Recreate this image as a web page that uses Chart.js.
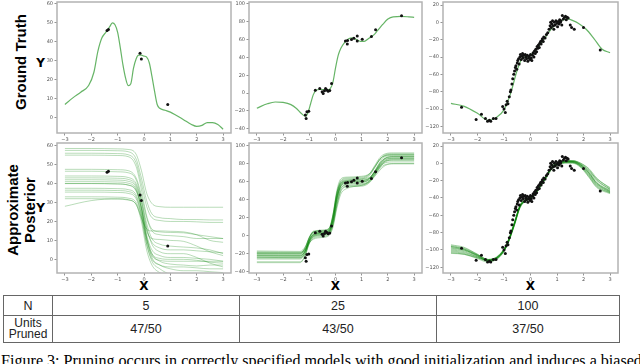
<!DOCTYPE html>
<html>
<head>
<meta charset="utf-8">
<script src="https://cdn.jsdelivr.net/npm/chart.js@4.4.1/dist/chart.umd.min.js"></script>
<style>
  body { margin: 0; width: 640px; height: 364px; overflow: hidden; background: #fff; position: relative; }
  .side { position: absolute; transform: translate(-50%, -50%) rotate(-90deg); font: bold 15px "Liberation Sans", Arial, sans-serif; white-space: nowrap; text-align: center; line-height: 17px; color: #000; }
  .lab { position: absolute; transform: translate(-50%, -50%); font: bold 12px "DejaVu Sans", sans-serif; line-height: 1; color: #000; }
  table { position: absolute; left: 3px; top: 295px; border-collapse: collapse; table-layout: fixed; font: 12.5px "Liberation Sans", Arial, sans-serif; color: #222; }
  td { border: 1px solid #666; padding: 0; text-align: center; }
  .caption { position: absolute; left: 1px; top: 353px; font: 16.1px "Liberation Serif", "Times New Roman", serif; line-height: 16.1px; white-space: nowrap; color: #000; }
</style>
</head>
<body>
<div class="side" style="left:19.5px;top:62px">Ground Truth</div>
<div class="side" style="left:21px;top:210px">Approximate<br>Posterior</div>
<div class="lab" style="left:40.5px;top:62.5px">Y</div>
<div class="lab" style="left:40.5px;top:207.5px">Y</div>
<div class="lab" style="left:144px;top:286px">X</div>
<div class="lab" style="left:335.5px;top:286px">X</div>
<div class="lab" style="left:530.5px;top:286px">X</div>
<table id="tbl"></table>
<div class="caption">Figure 3: Pruning occurs in correctly specified models with good initialization and induces a biased</div>
<script>
// tick labels
const xTicks = [-3, -2, -1, 0, 1, 2, 3];
const yTicks5 = [0, 10, 20, 30, 40, 50, 60];
const yTicks25 = [-40, -20, 0, 20, 40, 60, 80, 100];
const yTicks100 = [-120, -100, -80, -60, -40, -20, 0, 20];

// table
const sizes = ['5', '25', '100'];
const unitsPruned = ['47/50', '43/50', '37/50'];

// observed points
const obs5 = [[-1.4, 46], [-1.35, 46.5], [-0.15, 34], [-0.1, 31], [0.9, 7]];
const obs25 = [[-1.09, -21], [-1.15, -24.5], [-1.12, -28.5], [-1.02, -20.5], [-0.77, 3.3], [-0.6, 5],
  [-0.51, 1.5], [-0.47, -0.5], [-0.42, 2.5], [-0.38, 5], [-0.33, 3.5], [-0.28, 2], [-0.22, 3],
  [-0.15, 10.7], [0.38, 58.5], [0.45, 55], [0.46, 59], [0.61, 60], [0.7, 61.5], [0.83, 64],
  [0.83, 58.5], [1.02, 60.5], [1.37, 63.5], [1.53, 71], [2.52, 86.7]];
const obs100 = [
  [-2.6, -98], [-2.05, -112], [-1.85, -106], [-1.7, -111], [-1.62, -114], [-1.55, -113], [-1.5, -114], [-1.4, -111], [-1.3, -111], [-1.05, -97],
  [-1.0, -100], [-0.95, -104], [-0.92, -95], [-0.88, -91], [-0.85, -94], [-0.8, -86], [-0.76, -80], [-0.74, -78], [-0.7, -71], [-0.67, -65],
  [-0.63, -60], [-0.6, -56], [-0.57, -52], [-0.55, -50], [-0.52, -54], [-0.5, -47], [-0.48, -44], [-0.45, -42], [-0.43, -48], [-0.4, -40],
  [-0.38, -37], [-0.35, -43], [-0.32, -39], [-0.3, -36], [-0.27, -41], [-0.25, -38], [-0.22, -44], [-0.2, -37], [-0.17, -40], [-0.15, -42],
  [-0.12, -38], [-0.1, -45], [-0.07, -41], [-0.05, -39], [-0.02, -43], [0.0, -37], [0.03, -41], [0.05, -44], [0.08, -38], [0.1, -35],
  [0.13, -40], [0.15, -33], [0.18, -36], [0.2, -31], [0.23, -34], [0.25, -28], [0.28, -30], [0.3, -26], [0.33, -29], [0.35, -24],
  [0.38, -22], [0.4, -25], [0.43, -21], [0.45, -19], [0.48, -22], [0.5, -17], [0.55, -18], [0.6, -14], [0.65, -12], [0.7, -8],
  [0.74, -4], [0.76, 0], [0.78, -6], [0.8, -2], [0.83, 2], [0.86, -4], [0.88, -8], [0.9, 0], [0.93, -3], [0.96, 2],
  [1.0, -1], [1.02, -5], [1.05, 1], [1.08, -2], [1.1, 3], [1.13, 0], [1.15, 2], [1.18, -3], [1.2, 8], [1.24, 4],
  [1.28, 6], [1.32, 7], [1.35, 3], [1.38, 6], [1.42, 5], [1.5, -3], [1.55, -6], [1.65, -8], [2.0, -6], [2.63, -32]];

// ground truth functions
const truth5X = [-3, -2.7, -2.4, -2.1, -1.9, -1.75, -1.6, -1.45, -1.3, -1.2, -1.1, -1.0, -0.9, -0.8, -0.7, -0.6, -0.5, -0.4, -0.3, -0.2,
  -0.1, 0, 0.1, 0.2, 0.3, 0.4, 0.5, 0.6, 0.8, 1.0, 1.2, 1.5, 1.8, 2.0, 2.2, 2.4, 2.6, 2.8, 3];
const truth5Y = [7, 10.5, 13.5, 17, 24, 35, 42, 45, 48, 50, 49, 45, 37, 28, 21, 17, 18, 26, 31, 33,
  33, 32.5, 32, 29, 22, 14, 7, 5, 4, 3, 1.5, -1, -3.5, -4.5, -4, -2.5, -2.5, -3.5, -6];
const truth25X = [-3, -2.6, -2.3, -2.0, -1.7, -1.5, -1.3, -1.15, -1.05, -0.95, -0.85, -0.75, -0.6, -0.45, -0.3, -0.2, -0.1, 0,
  0.1, 0.2, 0.35, 0.5, 0.65, 0.8, 0.95, 1.1, 1.25, 1.45, 1.6, 1.8, 2.0, 2.2, 2.5, 2.8, 3];
const truth25Y = [-17, -12, -10, -10.5, -13, -17, -23, -26, -22, -12, -2, 3, 4, 4, 3.5, 5, 12, 28,
  42, 50, 57, 61, 62, 60, 58, 58, 61, 65, 70, 77, 83, 85.5, 86, 85.5, 85];
const truth100X = [-3, -2.5, -2, -1.6, -1.3, -1.0, -0.75, -0.5, -0.3, -0.1, 0.1, 0.3, 0.5, 0.75, 1.0, 1.2, 1.4, 1.6, 1.8, 2.1, 2.4, 2.7, 3];
const truth100Y = [-93.5, -97, -105, -113, -110, -101, -82, -55, -41, -39.5, -35, -28, -20, -9, -1, 2.5, 4, 2, -1, -8, -19, -31, -35];

// posterior samples (N = 5)
const post5X = [-3, -2, -1, -0.6, -0.3, -0.1, 0.1, 0.3, 0.6, 1, 1.5, 2, 2.5, 3];
const post5Lines = [
  [58.5, 58.5, 58.3, 58, 55.5, 47, 35, 29.5, 27.8, 27.5, 27.5, 27.5, 27.5, 27.5],
  [57.5, 57.5, 57.3, 56.8, 53, 43, 31, 24, 22, 21.5, 21, 21, 20.8, 20.8],
  [56, 56, 55.8, 55.2, 51, 40, 28, 22, 20.5, 20, 20, 19.8, 19.5, 19.5],
  [55, 55, 54.8, 54.2, 49, 37, 23, 16, 14.5, 14.2, 14, 13, 12, 11],
  [47.5, 47.5, 47.3, 46.8, 43, 34, 22, 15, 13, 12.5, 12, 11, 11, 11],
  [46.5, 46.5, 46.2, 45.7, 42, 32, 19, 11, 8, 7, 6.5, 6, 5, 3],
  [43, 43, 42.8, 42.2, 39, 30, 16, 9, 6, 5, 5, 4.5, 4, 3.5],
  [42, 42, 41.8, 41.2, 38, 28, 13, 5, 2, 1, 1, 0.5, 0, -1],
  [41, 41, 40.8, 40.2, 37, 27, 12, 3, -1, -2.5, -3, -3.5, -3, -3],
  [40, 40, 39.8, 39.2, 36, 27, 15, 11, 10.5, 10, 9.5, 7, 4, 2],
  [40, 40, 39.8, 39.2, 36.5, 27, 11, 1, -3, -5, -6, -6, -6.5, -7],
  [44, 44, 43.8, 43.2, 40, 31, 17, 8, 4, 3, 3, 1, -2, -4],
  [37.5, 37.5, 37.3, 36.8, 34, 25, 10, 2, -0.5, -1, -1, -1, -1, -1],
  [36.5, 36.5, 36.3, 35.8, 33, 24, 11, 3, 0.5, 0, 0, -0.5, -1.5, -2],
  [35.5, 35.5, 35.3, 34.8, 32, 23, 8, -1, -5, -8, -10, -11, -12, -12],
  [33, 33, 32.8, 32.3, 30, 22, 8, 0, -3, -4, -4, -4.5, -5, -5],
  [32, 32, 31.8, 31.3, 29, 20, 5, -3, -7, -9, -10, -10, -10, -10],
  [28, 31, 32, 31.5, 29, 22, 16, 15, 15, 14.8, 14.5, 13, 10, 9]];

// posterior samples (N = 25)
const post25X = [-3, -1.35, -1.15, -1.0, -0.85, -0.5, -0.25, -0.1, 0.05, 0.2, 0.4, 1.0, 1.3, 1.5, 1.7, 1.9, 2.2, 3];
const post25Lines = [
  [-17, -17.5, -12, -2, 4, 5, 7, 20, 45, 58, 61, 63, 67, 76, 85, 89, 90, 90],
  [-19, -19.5, -15, -5, 1, 3, 5, 16, 40, 55, 59, 60, 63, 71, 80, 86, 88, 88],
  [-20, -20, -14, -3, 3, 4, 6, 22, 48, 61, 64, 65, 69, 78, 87, 91, 92, 92],
  [-21, -21.5, -17, -7, -1, 1, 3, 13, 36, 52, 57, 58, 61, 69, 78, 84, 86, 86],
  [-22, -22.5, -17, -6, 0, 2, 4, 17, 42, 56, 60, 61, 64, 72, 81, 86, 87, 87],
  [-23, -23, -16, -3, 4, 6, 8, 23, 47, 59, 62, 63, 65, 71, 78, 83, 84, 84],
  [-24, -24.5, -19, -8, -2, 0, 2, 12, 34, 50, 55, 56, 60, 68, 77, 83, 85, 85],
  [-25, -25, -18, -5, 1, 3, 5, 18, 42, 55, 58, 59, 63, 72, 82, 88, 89, 89],
  [-18, -18.5, -15, -8, -4, -2, 0, 9, 30, 46, 52, 56, 60, 66, 73, 78, 80, 80],
  [-29, -29, -22, -8, 0, 2, 4, 16, 40, 55, 59, 60, 62, 68, 75, 79, 80, 80],
  [-30, -30, -21, -5, 2, 4, 6, 19, 44, 58, 61, 62, 64, 70, 77, 81, 82, 82],
  [-20, -20.5, -13, -2, 4, 5, 7, 23, 50, 63, 65, 66, 69, 77, 85, 89, 90, 90],
  [-22, -22, -16, -6, -1, 1, 3, 14, 38, 53, 56, 57, 61, 70, 80, 86, 88, 88],
  [-24, -24, -17, -5, 1, 3, 5, 17, 43, 57, 60, 61, 64, 71, 79, 85, 86, 86],
  [-19, -19, -13, -2, 5, 6, 8, 21, 47, 60, 63, 64, 68, 76, 85, 90, 91, 91],
  [-26, -26, -20, -9, -3, -1, 1, 11, 33, 49, 54, 55, 59, 67, 76, 82, 84, 84]];

// posterior samples (N = 100)
const post100X = [-3, -2.5, -2, -1.6, -1.2, -0.9, -0.6, -0.4, -0.2, 0, 0.2, 0.4, 0.6, 0.8, 1.0, 1.3, 1.6, 1.9, 2.2, 2.5, 3];
const post100Lines = [
  [-94, -97, -105, -111, -107, -94, -68, -49, -42, -39, -33, -24, -14, -4, 0, 3, 3, -1, -8, -18, -28],
  [-96, -99, -106, -112, -108, -96, -71, -51, -43, -40, -34, -25, -16, -6, -2, 1, 2, -2, -11, -23, -32],
  [-98, -100, -107, -113, -109, -96, -70, -50, -44, -41, -35, -26, -16, -6, -2, 1, 1, -4, -15, -27, -34],
  [-100, -102, -108, -112, -107, -93, -67, -48, -42, -40, -34, -25, -15, -5, -1, 2, 3, 0, -6, -17, -29],
  [-102, -104, -109, -113, -108, -95, -69, -50, -43, -40, -33, -24, -14, -4, 0, 3, 2, -3, -12, -24, -33],
  [-103, -105, -110, -114, -109, -96, -71, -52, -44, -41, -35, -26, -17, -7, -3, 0, 0, -5, -16, -28, -35],
  [-96, -99, -106, -111, -106, -93, -68, -49, -42, -39, -33, -24, -14, -4, 0, 3, 3, 0, -7, -19, -30],
  [-99, -101, -107, -112, -108, -95, -69, -50, -43, -40, -34, -25, -15, -5, -1, 2, 2, -2, -10, -22, -31],
  [-101, -103, -108, -112, -107, -94, -68, -49, -42, -39, -33, -24, -14, -4, 0, 2, 2, -1, -9, -20, -30],
  [-95, -98, -105, -111, -107, -95, -70, -51, -43, -40, -34, -25, -15, -5, -1, 1, 1, -4, -14, -26, -34],
  [-97, -100, -106, -112, -108, -95, -70, -50, -43, -40, -34, -25, -15, -5, -1, 2, 1, -3, -13, -25, -33],
  [-104, -105, -109, -112, -107, -94, -69, -50, -43, -40, -34, -25, -15, -5, -1, 2, 2, -2, -11, -23, -32]];

// table
const tbl = document.getElementById('tbl');
tbl.innerHTML =
  '<colgroup><col style="width:49px"><col style="width:187px"><col style="width:197px"><col style="width:183px"></colgroup>' +
  '<tr style="height:20px"><td>N</td>' + sizes.map(s => '<td>' + s + '</td>').join('') + '</tr>' +
  '<tr style="height:27px"><td style="font-size:12px;line-height:11px">Units<br>Pruned</td>' +
  unitsPruned.map(s => '<td>' + s + '</td>').join('') + '</tr>';

const PAD = { l: 30, t: 6, r: 8, b: 14 };
const FONT = { family: 'DejaVu Sans', size: 5 };
const minus = v => String(v).replace('-', '\u2212');

const frame = {
  id: 'frame',
  afterDraw(chart) {
    const a = chart.chartArea, ctx = chart.ctx;
    ctx.save();
    ctx.strokeStyle = '#b3b3b3';
    ctx.lineWidth = 1.5;
    ctx.strokeRect(a.left, a.top, a.right - a.left, a.bottom - a.top);
    ctx.restore();
  }
};

function axis(min, max, ticks, isX) {
  return {
    type: 'linear', min, max,
    afterBuildTicks: s => { s.ticks = ticks.map(v => ({ value: v })); },
    afterFit: s => { if (isX) s.height = PAD.b; else s.width = PAD.l; },
    border: { display: false },
    grid: { drawOnChartArea: false, drawTicks: true, tickLength: 2.5, color: '#777', lineWidth: 0.8 },
    ticks: { font: FONT, color: '#555', padding: 1.5, autoSkip: false, maxRotation: 0, callback: minus }
  };
}

const line = (xs, ys, color, width) => ({
  data: xs.map((x, i) => ({ x, y: ys[i] })), showLine: true, pointRadius: 0,
  borderColor: color, borderWidth: width, cubicInterpolationMode: 'monotone', order: 1
});
const dots = pts => ({
  data: pts.map(([x, y]) => ({ x, y })), pointRadius: 1.5, backgroundColor: '#111', borderWidth: 0, order: 0
});

function panel(box, yMin, yMax, yTicks, datasets) {
  const c = document.createElement('canvas');
  const w = box[2] - box[0] + PAD.l + PAD.r, h = box[3] - box[1] + PAD.t + PAD.b;
  c.width = w; c.height = h;
  c.style.cssText = `position:absolute;left:${box[0] - PAD.l}px;top:${box[1] - PAD.t}px;width:${w}px;height:${h}px`;
  document.body.appendChild(c);
  new Chart(c, {
    type: 'scatter',
    data: { datasets },
    options: {
      responsive: false, animation: false,
      layout: { padding: { top: PAD.t, right: PAD.r, left: 0, bottom: 0 } },
      plugins: { legend: { display: false }, tooltip: { enabled: false } },
      scales: { x: axis(-3.3, 3.3, xTicks, true), y: axis(yMin, yMax, yTicks, false) }
    },
    plugins: [frame]
  });
}

const TRUTH = 'rgba(20,140,20,0.65)';
panel([57, 2, 231, 133], -8, 61, yTicks5, [dots(obs5), line(truth5X, truth5Y, TRUTH, 1.2)]);
panel([249, 2, 422, 133], -44.8, 102.2, yTicks25, [dots(obs25), line(truth25X, truth25Y, TRUTH, 1.2)]);
panel([443, 2, 618, 133], -127.7, 23.5, yTicks100, [dots(obs100), line(truth100X, truth100Y, TRUTH, 1.2)]);
panel([57, 143, 231, 273], -7.2, 61.4, yTicks5,
  [dots(obs5), ...post5Lines.map(ys => line(post5X, ys, 'rgba(0,128,0,0.28)', 1))]);
panel([249, 143, 422, 273], -41.5, 103, yTicks25,
  [dots(obs25), ...post25Lines.map(ys => line(post25X, ys, 'rgba(0,128,0,0.3)', 1))]);
panel([443, 143, 618, 273], -126.6, 23.5, yTicks100,
  [dots(obs100), ...post100Lines.map(ys => line(post100X, ys, 'rgba(0,128,0,0.35)', 1))]);
</script>
</body>
</html>
